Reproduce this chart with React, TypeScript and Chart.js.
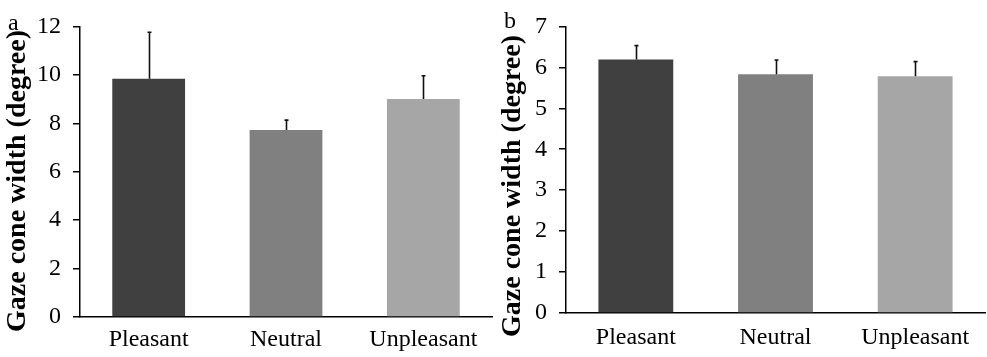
import React, { useEffect, useRef } from "react";
import { Chart, registerables } from "chart.js";

Chart.register(...registerables);

const categories = ["Pleasant", "Neutral", "Unpleasant"];
const barColors = ["#404040", "#808080", "#a6a6a6"];
const yTitle = "Gaze cone width (degree)";

const panelAValues = [9.84, 7.72, 9.0];
const panelAErrors = [1.92, 0.41, 0.96];
const panelAMax = 12;
const panelAStep = 2;

const panelBValues = [6.19, 5.83, 5.78];
const panelBErrors = [0.34, 0.35, 0.36];
const panelBMax = 7;
const panelBStep = 1;

const FONT = "'Liberation Serif', 'Times New Roman', serif";

const errorBarPlugin = {
  id: "errorBars",
  afterDatasetsDraw(chart: any, _args: any, opts: any) {
    const errs: number[] = opts.errors || [];
    const meta = chart.getDatasetMeta(0);
    const ys = chart.scales.y;
    const vals = chart.data.datasets[0].data as number[];
    const ctx = chart.ctx;
    ctx.save();
    ctx.strokeStyle = "#111";
    ctx.lineWidth = 1.6;
    meta.data.forEach((bar: any, i: number) => {
      const x = Math.round(bar.x) + 0.5;
      const y0 = ys.getPixelForValue(vals[i]);
      const y1 = ys.getPixelForValue(vals[i] + errs[i]);
      ctx.beginPath();
      ctx.moveTo(x, y0);
      ctx.lineTo(x, y1);
      ctx.moveTo(x - 2, y1);
      ctx.lineTo(x + 2, y1);
      ctx.stroke();
    });
    ctx.restore();
  },
};

const labelsPlugin = {
  id: "panelLabels",
  afterDraw(chart: any, _args: any, opts: any) {
    const ctx = chart.ctx;
    ctx.save();
    ctx.fillStyle = "#000";
    ctx.font = `24px ${FONT}`;
    ctx.textAlign = "left";
    ctx.textBaseline = "alphabetic";
    ctx.fillText(opts.letter, opts.letterX, opts.letterY);
    ctx.translate(opts.titleX, opts.titleY);
    ctx.rotate(-Math.PI / 2);
    ctx.font = `bold 28px ${FONT}`;
    ctx.textAlign = "center";
    ctx.textBaseline = "middle";
    ctx.fillText(yTitle, 0, 0);
    ctx.restore();
  },
};

type PanelProps = {
  left: number;
  width: number;
  values: number[];
  errors: number[];
  max: number;
  step: number;
  axisX: number;
  bottomH: number;
  padRight: number;
  xPad: number;
  letter: string;
  letterX: number;
  letterY: number;
  titleX: number;
  titleY: number;
  barPct: number;
};

function Panel(p: PanelProps) {
  const ref = useRef<HTMLCanvasElement>(null);
  useEffect(() => {
    if (!ref.current) return;
    const chart = new Chart(ref.current, {
      type: "bar",
      data: {
        labels: categories,
        datasets: [
          {
            data: p.values,
            backgroundColor: barColors,
            borderWidth: 0,
            barPercentage: p.barPct,
            categoryPercentage: 1,
          },
        ],
      },
      plugins: [errorBarPlugin, labelsPlugin],
      options: {
        responsive: false,
        animation: false,
        devicePixelRatio: 1,
        layout: { padding: { top: 17, right: p.padRight, bottom: 0, left: 0 } },
        plugins: {
          legend: { display: false },
          tooltip: { enabled: false },
          errorBars: { errors: p.errors },
          panelLabels: {
            letter: p.letter,
            letterX: p.letterX,
            letterY: p.letterY,
            titleX: p.titleX,
            titleY: p.titleY,
          },
        } as any,
        scales: {
          x: {
            grid: { display: false, drawTicks: false },
            border: { display: true, color: "#000", width: 1.5 },
            ticks: {
              color: "#000",
              padding: p.xPad,
              font: { family: FONT, size: 24 },
              maxRotation: 0,
            },
            afterFit: (s: any) => {
              s.height = p.bottomH;
            },
          },
          y: {
            min: 0,
            max: p.max,
            grid: {
              display: true,
              drawOnChartArea: false,
              drawTicks: true,
              tickLength: 7,
              color: "#000",
              lineWidth: 1.5,
            },
            border: { display: true, color: "#000", width: 1.5 },
            ticks: {
              stepSize: p.step,
              color: "#000",
              padding: 12,
              font: { family: FONT, size: 24 },
            },
            afterFit: (s: any) => {
              s.width = p.axisX;
            },
          },
        },
      },
    } as any);
    return () => chart.destroy();
  }, []);
  return (
    <canvas
      ref={ref}
      width={p.width}
      height={357}
      style={{ position: "absolute", left: p.left, top: 0, width: p.width, height: 357 }}
    />
  );
}

export default function App() {
  useEffect(() => {
    document.body.style.margin = "0";
  }, []);
  return (
    <div style={{ position: "fixed", left: 0, top: 0, width: 987, height: 357, background: "#fff" }}>
      <Panel
        left={0}
        width={493}
        values={panelAValues}
        errors={panelAErrors}
        max={panelAMax}
        step={panelAStep}
        axisX={80}
        bottomH={40}
        padRight={1}
        xPad={8}
        letter="a"
        letterX={8}
        letterY={30}
        titleX={18}
        titleY={181}
        barPct={0.53}
      />
      <Panel
        left={493}
        width={494}
        values={panelBValues}
        errors={panelBErrors}
        max={panelBMax}
        step={panelBStep}
        axisX={73}
        bottomH={44}
        padRight={2}
        xPad={10}
        letter="b"
        letterX={11}
        letterY={28}
        titleX={20}
        titleY={186}
        barPct={0.536}
      />
    </div>
  );
}
